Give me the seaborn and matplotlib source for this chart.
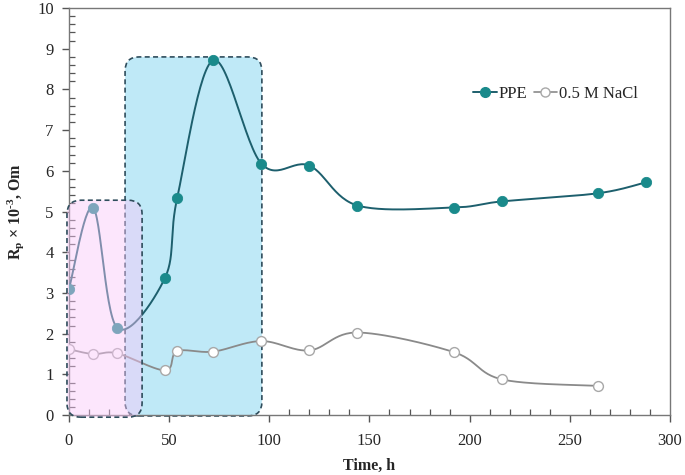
import numpy as np, pandas as pd
import matplotlib
matplotlib.use("Agg")
import matplotlib.pyplot as plt
import seaborn as sns
from matplotlib.patches import FancyBboxPatch
from matplotlib.lines import Line2D
from matplotlib.ticker import MultipleLocator

# ---------- data ----------
ppe_time = [0, 12, 24, 48, 54, 72, 96, 120, 144, 192, 216, 264, 288]
ppe_rp = [3.10, 5.10, 2.15, 3.38, 5.33, 8.72, 6.18, 6.13, 5.15, 5.10, 5.25, 5.45, 5.72]
nacl_time = [0, 12, 24, 48, 54, 72, 96, 120, 144, 192, 216, 264]
nacl_rp = [1.62, 1.50, 1.52, 1.10, 1.57, 1.56, 1.82, 1.59, 2.03, 1.55, 0.88, 0.72]

PPE_LINE = "#1d5f6d"
PPE_MARK = "#1a8a8b"
NACL_LINE = "#8a8a8a"

def smooth(xs, ys, n=30):
    # Excel-like smoothed line: cubic Bezier with Catmull-Rom handles
    P = np.column_stack([xs, ys]).astype(float)
    m = len(P)
    out = []
    for i in range(m - 1):
        p0 = P[max(i - 1, 0)]; p1 = P[i]; p2 = P[i + 1]; p3 = P[min(i + 2, m - 1)]
        c1 = p1 + (p2 - p0) / 6.0
        c2 = p2 - (p3 - p1) / 6.0
        t = np.linspace(0, 1, n)[:, None]
        seg = ((1 - t) ** 3) * p1 + 3 * ((1 - t) ** 2) * t * c1 + 3 * (1 - t) * t ** 2 * c2 + t ** 3 * p2
        out.append(seg if i == 0 else seg[1:])
    s = np.vstack(out)
    return pd.DataFrame({"x": s[:, 0], "y": s[:, 1]})

sns.set_theme(style="ticks")
plt.rcParams["font.family"] = ["Liberation Serif", "DejaVu Serif"]
plt.rcParams["mathtext.fontset"] = "custom"
plt.rcParams["mathtext.rm"] = "Liberation Serif:bold"
plt.rcParams["mathtext.default"] = "rm"

fig = plt.figure(figsize=(6.85, 4.75), dpi=100)
ax = fig.add_axes([0.1007, 0.126, 0.8773, 0.857])

# highlight boxes
asp = (1 / 40.7) / (1 / 2.003)
cyan = FancyBboxPatch((28, -0.02), 68.3, 8.82, boxstyle="round,pad=0,rounding_size=7",
                      mutation_aspect=asp, facecolor="#bfe9f7", edgecolor="#2f4d5c",
                      linestyle=(0, (3, 2)), linewidth=1.2, zorder=1, clip_on=False)
ax.add_patch(cyan)

ppe_s = smooth(ppe_time, ppe_rp)
nacl_s = smooth(nacl_time, nacl_rp)
sns.lineplot(data=ppe_s, x="x", y="y", sort=False, color=PPE_LINE, linewidth=1.4, ax=ax, zorder=3)
sns.lineplot(data=nacl_s, x="x", y="y", sort=False, color=NACL_LINE, linewidth=1.3, ax=ax, zorder=3)
sns.scatterplot(x=ppe_time, y=ppe_rp, color=PPE_MARK, edgecolor=PPE_MARK, s=55, ax=ax, zorder=4)
sns.scatterplot(x=nacl_time, y=nacl_rp, color="white", edgecolor="#a8a8a8", linewidth=1.0,
                s=50, ax=ax, zorder=4)

pink = FancyBboxPatch((-1, -0.05), 37.5, 5.33, boxstyle="round,pad=0,rounding_size=7",
                      mutation_aspect=asp, facecolor=(250/255, 200/255, 250/255, 0.45),
                      edgecolor="#2f4d5c", linestyle=(0, (3, 2)), linewidth=1.2,
                      zorder=5, clip_on=False)
ax.add_patch(pink)

ax.set_xlim(0, 300)
ax.set_ylim(0, 10)
ax.xaxis.set_major_locator(MultipleLocator(50))
ax.xaxis.set_minor_locator(MultipleLocator(10))
ax.yaxis.set_major_locator(MultipleLocator(1))
ax.yaxis.set_minor_locator(MultipleLocator(0.2))
ax.tick_params(which="major", direction="out", length=5, width=1, color="#555555",
               labelsize=12, pad=8)
ax.tick_params(axis="y", which="major", pad=6)
ax.tick_params(which="minor", direction="in", length=4, width=0.9, color="#555555")
for sp in ax.spines.values():
    sp.set_color("#777777"); sp.set_linewidth(1.0)

ax.set_xlabel("Time, h", fontsize=11.5, fontweight="bold", labelpad=6)
ax.set_ylabel(r"R$_{p}$ × 10$^{\text{-3}}$, Om", fontsize=11.5, fontweight="bold", labelpad=8)

handles = [Line2D([0], [0], color=PPE_LINE, marker="o", markersize=7, markerfacecolor=PPE_MARK,
                  markeredgecolor=PPE_MARK, linewidth=1.4),
           Line2D([0], [0], color=NACL_LINE, marker="o", markersize=6.5, markerfacecolor="white",
                  markeredgecolor="#a8a8a8", linewidth=1.2)]
ax.legend(handles, ["PPE", "0.5 M NaCl"], ncol=2, frameon=False, fontsize=12,
          loc="upper left", bbox_to_anchor=(0.648, 0.845), handlelength=1.4,
          handletextpad=0.1, columnspacing=0.4)

fig.savefig("out.png", dpi=100)
